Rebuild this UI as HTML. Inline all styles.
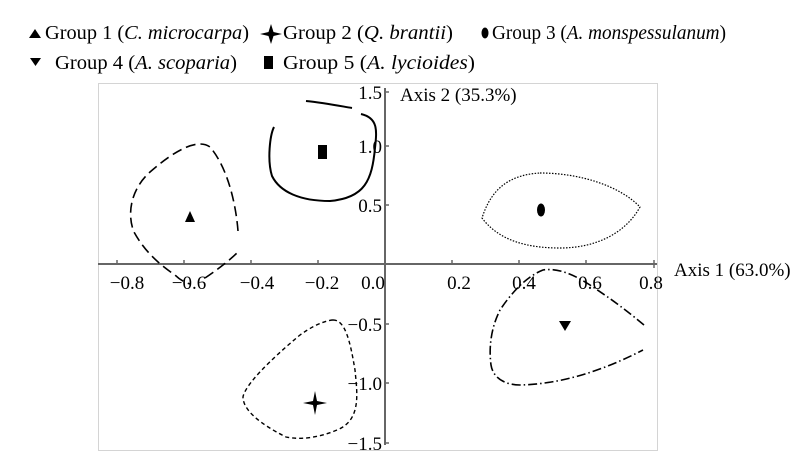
<!DOCTYPE html>
<html><head><meta charset="utf-8"><style>
body{margin:0;background:#fff;}
svg{display:block;font-family:"Liberation Serif",serif;}
</style></head><body>
<svg width="800" height="459" viewBox="0 0 800 459" xmlns="http://www.w3.org/2000/svg">
<g font-size="19.5" fill="#000">
<path d="M29 38 L35 29 L41 38 Z"/>
<text x="45" y="39" textLength="204" lengthAdjust="spacingAndGlyphs">Group 1 (<tspan font-style="italic">C. microcarpa</tspan>)</text>
<path d="M271 24 L273.5 32 L282 34 L273.5 36 L271 44 L268.5 36 L260 34 L268.5 32 Z"/>
<text x="283" y="39" textLength="170" lengthAdjust="spacingAndGlyphs">Group 2 (<tspan font-style="italic">Q. brantii</tspan>)</text>
<ellipse cx="485" cy="33" rx="3.5" ry="5.5"/>
<text x="492" y="39" textLength="234" lengthAdjust="spacingAndGlyphs">Group 3 (<tspan font-style="italic">A. monspessulanum</tspan>)</text>
<path d="M30 58 L41 58 L35.5 66 Z"/>
<text x="55" y="69" textLength="182" lengthAdjust="spacingAndGlyphs">Group 4 (<tspan font-style="italic">A. scoparia</tspan>)</text>
<rect x="264" y="56" width="9" height="13"/>
<text x="283" y="69" textLength="192" lengthAdjust="spacingAndGlyphs">Group 5 (<tspan font-style="italic">A. lycioides</tspan>)</text>
</g>
<rect x="98.5" y="83.5" width="559" height="367" fill="none" stroke="#aaa" stroke-dasharray="1,1"/>
<line x1="98" y1="264" x2="657" y2="264" stroke="#666" stroke-width="2"/>
<line x1="385" y1="88" x2="385" y2="445" stroke="#666" stroke-width="2"/>
<g stroke="#666" stroke-width="1.5">
<line x1="117" y1="260" x2="117" y2="264"/><line x1="184" y1="260" x2="184" y2="264"/>
<line x1="251" y1="260" x2="251" y2="264"/><line x1="318" y1="260" x2="318" y2="264"/>
<line x1="452" y1="260" x2="452" y2="264"/><line x1="519" y1="260" x2="519" y2="264"/>
<line x1="586" y1="260" x2="586" y2="264"/><line x1="654" y1="260" x2="654" y2="268"/>
<line x1="385" y1="92" x2="389" y2="92"/><line x1="385" y1="146" x2="389" y2="146"/>
<line x1="385" y1="205" x2="389" y2="205"/><line x1="385" y1="324" x2="389" y2="324"/>
<line x1="385" y1="383" x2="389" y2="383"/><line x1="385" y1="443" x2="389" y2="443"/>
</g>
<g font-size="19" fill="#000">
<text x="127" y="289" text-anchor="middle">−0.8</text>
<text x="189" y="289" text-anchor="middle">−0.6</text>
<text x="257" y="289" text-anchor="middle">−0.4</text>
<text x="322" y="289" text-anchor="middle">−0.2</text>
<text x="373" y="289" text-anchor="middle">0.0</text>
<text x="459" y="289" text-anchor="middle">0.2</text>
<text x="524" y="289" text-anchor="middle">0.4</text>
<text x="590" y="289" text-anchor="middle">0.6</text>
<text x="651" y="289" text-anchor="middle">0.8</text>
<text x="382" y="99" text-anchor="end">1.5</text>
<text x="382" y="153" text-anchor="end">1.0</text>
<text x="382" y="212" text-anchor="end">0.5</text>
<text x="382" y="331" text-anchor="end">−0.5</text>
<text x="382" y="390" text-anchor="end">−1.0</text>
<text x="382" y="450" text-anchor="end">−1.5</text>
<text x="400" y="101">Axis 2 (35.3%)</text>
<text x="674" y="276">Axis 1 (63.0%)</text>
</g>
<path d="M238 231 C236 205 228 168 210 147 C198 138 175 150 150 172 C128 192 128 218 134 232 C145 252 160 265 175 275 C180 280 186 283 190 284" fill="none" stroke="#000" stroke-width="1.6" stroke-dasharray="10,5"/>
<path d="M205 278 C220 268 232 258 238 252" fill="none" stroke="#000" stroke-width="1.6" stroke-dasharray="10,5"/>
<path d="M185 222 L190 211 L195 222 Z"/>
<path d="M306 101 C325 103 340 106 352 108" fill="none" stroke="#000" stroke-width="2"/>
<path d="M361 114 C378 118 377 130 375 148 C372 180 365 198 330 201 C300 201 280 192 272 176 C267 160 270 135 274 127" fill="none" stroke="#000" stroke-width="2"/>
<rect x="318" y="145" width="9" height="14"/>
<path d="M540 173 C580 173 620 186 640 207 C625 234 595 248 560 248 C530 248 500 242 482 218 C490 193 505 175 540 173 Z" fill="none" stroke="#000" stroke-width="1.2" stroke-dasharray="1.5,1.5"/>
<ellipse cx="541" cy="210" rx="4" ry="6.5"/>
<path d="M644 325 C620 305 605 295 590 285 C570 272 555 268 543 270 C525 277 510 295 500 310 C490 330 489 350 491 365 C493 378 505 385 520 385 C560 384 600 372 643 350" fill="none" stroke="#000" stroke-width="1.6" stroke-dasharray="9,3,1.5,3"/>
<path d="M559 321 L571 321 L565 331 Z"/>
<path d="M333 320 C345 320 350 340 355 370 C357 392 362 420 337 430 C318 438 300 440 286 437 C260 424 243 410 243 397 C245 385 270 360 300 335 C318 322 330 320 333 320 Z" fill="none" stroke="#000" stroke-width="1.4" stroke-dasharray="4,3"/>
<path d="M315 391 L317 401 L327 403 L317 405 L315 415 L313 405 L303 403 L313 401 Z"/>
</svg>
</body></html>
